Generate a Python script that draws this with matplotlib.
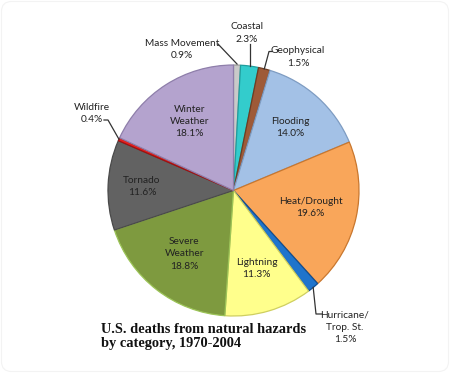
import numpy as np
import matplotlib
matplotlib.use("Agg")
import matplotlib.pyplot as plt
from matplotlib.patches import FancyBboxPatch

categories = ["Mass Movement", "Coastal", "Geophysical", "Flooding", "Heat/Drought",
              "Hurricane/\nTrop. St.", "Lightning", "Severe\nWeather", "Tornado",
              "Wildfire", "Winter\nWeather"]
values = [0.9, 2.3, 1.5, 14.0, 19.6, 1.5, 11.3, 18.8, 11.6, 0.4, 18.1]
colors = ["#C9C9C9", "#33CCCC", "#9E5A38", "#A3C1E6", "#F9A65A", "#1F74CC",
          "#FFFF8C", "#7E9A3F", "#626262", "#E8201E", "#B4A3CE"]
edges = ["#9A9A9A", "#1E9E9E", "#6E3C22", "#7E9CC2", "#C9772E", "#124E90",
         "#CFCF60", "#9CC458", "#4A4A4A", "#A01010", "#8E7EAA"]

W, H = 450, 373
fig = plt.figure(figsize=(W / 100, H / 100), dpi=100)
ax = fig.add_axes([0, 0, 1, 1])
ax.set_xlim(0, W)
ax.set_ylim(0, H)
ax.set_aspect("equal")
ax.axis("off")

def Y(y):
    return H - y

cx, cy, R = 233.5, Y(190.5), 125.5
wedges, _ = ax.pie(values, colors=colors, startangle=90, counterclock=False,
                   center=(cx, cy), radius=R, frame=True,
                   wedgeprops=dict(linewidth=0.9))
for w, e in zip(wedges, edges):
    w.set_edgecolor(e)
ax.set_xlim(0, W)
ax.set_ylim(0, H)
ax.axis("off")

FONT = "Lato"
fs = 7.3
tc = "#222222"

cum = np.cumsum([0] + values)
def mid_angle(i):
    frac = (cum[i] + cum[i + 1]) / 2 / 100.0
    return np.deg2rad(90 - 360 * frac)

def edge_pt(i, r=1.0):
    a = mid_angle(i)
    return cx + R * r * np.cos(a), cy + R * r * np.sin(a)

inside = {3: 0.68, 4: 0.63, 6: 0.65, 7: 0.64, 8: 0.73, 10: 0.65}
for i, rf in inside.items():
    x, y = edge_pt(i, rf)
    ax.text(x, y, f"{categories[i]}\n{values[i]:.1f}%", ha="center", va="center",
            fontsize=fs, family=FONT, color=tc, linespacing=1.45)

lc = "#333333"
lw = 0.9
# Mass Movement
ax.text(182, Y(49.5), f"{categories[0]}\n{values[0]:.1f}%", ha="center", va="center",
        fontsize=fs, family=FONT, color=tc, linespacing=1.45)
px, py = edge_pt(0, 1.0)
ax.plot([218, px], [Y(44), py + 1], color=lc, lw=lw)
# Coastal
ax.text(247, Y(33), f"{categories[1]}\n{values[1]:.1f}%", ha="center", va="center",
        fontsize=fs, family=FONT, color=tc, linespacing=1.45)
px, py = edge_pt(1, 1.0)
ax.plot([px, px], [Y(44), py], color=lc, lw=lw)
# Geophysical
ax.text(298, Y(57), f"{categories[2]}\n{values[2]:.1f}%", ha="center", va="center",
        fontsize=fs, family=FONT, color=tc, linespacing=1.45)
px, py = edge_pt(2, 1.0)
ax.plot([272, 269, px], [Y(51.5), Y(51.5), py], color=lc, lw=lw)
# Wildfire
ax.text(92, Y(113.5), f"{categories[9]}\n{values[9]:.1f}%", ha="center", va="center",
        fontsize=fs, family=FONT, color=tc, linespacing=1.45)
px, py = edge_pt(9, 1.0)
ax.plot([104, 108, px], [Y(120), Y(120), py], color=lc, lw=lw)
# Hurricane
ax.text(345, Y(327.5), f"{categories[5]}\n{values[5]:.1f}%", ha="center", va="center",
        fontsize=fs, family=FONT, color=tc, linespacing=1.45)
px, py = edge_pt(5, 1.0)
ax.plot([px, 316, 322], [py, Y(314), Y(314)], color=lc, lw=lw)

# Title
ax.text(101, Y(336.5), "U.S. deaths from natural hazards\nby category, 1970-2004",
        ha="left", va="center", fontsize=10.4, family="Liberation Serif",
        fontweight="bold", color="#111111", linespacing=1.15)

border = FancyBboxPatch((1.5, 1.5), W - 3, H - 3, boxstyle="round,pad=0,rounding_size=10",
                        fill=False, edgecolor="#F3F3F3", lw=0.8)
ax.add_patch(border)

fig.savefig("out.png", dpi=100, facecolor="white")
